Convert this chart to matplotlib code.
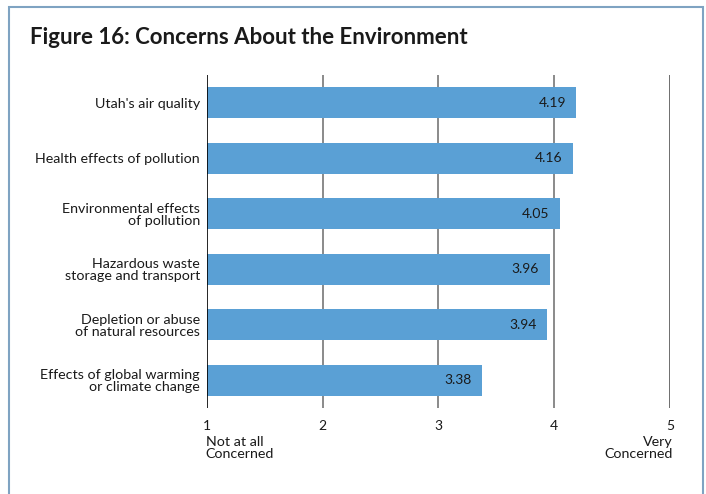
import matplotlib
matplotlib.use('Agg')
import matplotlib.pyplot as plt
import matplotlib.patches as patches

categories = [
    "Utah's air quality",
    "Health effects of pollution",
    "Environmental effects\nof pollution",
    "Hazardous waste\nstorage and transport",
    "Depletion or abuse\nof natural resources",
    "Effects of global warming\nor climate change",
]
scores = [4.19, 4.16, 4.05, 3.96, 3.94, 3.38]
tick_values = [1, 2, 3, 4, 5]
tick_labels = ['1', '2', '3', '4', '5']

plt.rcParams['font.family'] = ['Lato', 'DejaVu Sans']

fig = plt.figure(figsize=(7.06, 4.94), dpi=100)
ax = fig.add_axes([0.2932, 0.1741, 0.949 - 0.2932, 0.8482 - 0.1741])

# figure frame
frame = patches.Rectangle((8.5 / 706, -0.1), (703 - 8.5) / 706, 1.1 - 7.5 / 494,
                          transform=fig.transFigure, fill=False,
                          edgecolor='#7fa3c2', linewidth=1.5, clip_on=False)
fig.patches.append(frame)

fig.text(30 / 706, 1 - 37 / 494, 'Figure 16: Concerns About the Environment',
         fontsize=16, fontweight='bold', ha='left', va='center', color='#1a1a1a')

# vertical reference lines
for v in tick_values[1:]:
    ax.axvline(v, color='#555555' if v == 5 else '#777777', linewidth=1.2, zorder=1)
ax.axvline(1, color='black', linewidth=1.2, zorder=3)

y = list(range(len(categories)))
ax.barh(y, [s - 1 for s in scores], left=1, height=0.56, color='#5aa0d5', zorder=2)

for yi, s in zip(y, scores):
    ax.text(s - 0.09, yi, f'{s:.2f}', ha='right', va='center', fontsize=10,
            color='#1a1a1a', zorder=4)

ax.set_xlim(1, 5)
ax.set_ylim(len(categories) - 0.5, -0.5)
ax.set_yticks(y)
ax.set_yticklabels(categories, fontsize=10.3, color='#1a1a1a', linespacing=1.0)
ax.tick_params(axis='y', length=0, pad=5)
ax.set_xticks(tick_values)
ax.set_xticklabels(tick_labels, fontsize=10, color='#1a1a1a')
ax.tick_params(axis='x', length=0, pad=9)
for sp in ax.spines.values():
    sp.set_visible(False)

ax.text(0.99, -0.085, 'Not at all\nConcerned', transform=ax.get_xaxis_transform(),
        ha='left', va='top', fontsize=10.3, linespacing=0.95, color='#1a1a1a')
ax.text(5.02, -0.085, 'Very\nConcerned', transform=ax.get_xaxis_transform(),
        ha='right', va='top', fontsize=10.3, linespacing=0.95, color='#1a1a1a')

fig.savefig('out.png', dpi=100)
